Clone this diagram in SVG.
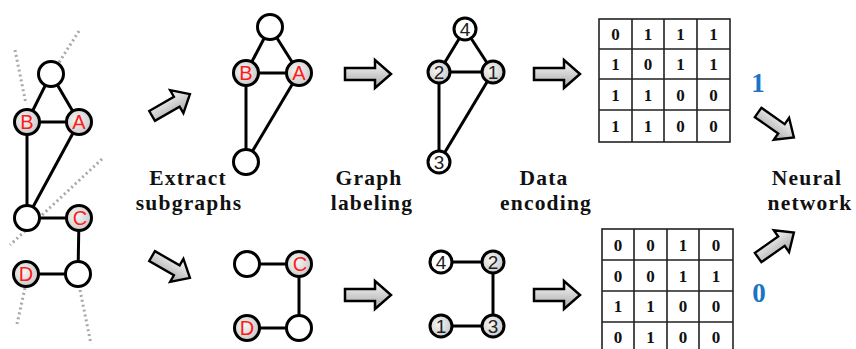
<svg xmlns="http://www.w3.org/2000/svg" width="856" height="349" viewBox="0 0 856 349">
<defs>
<radialGradient id="ng" cx="0.4" cy="0.4" r="0.7">
<stop offset="0" stop-color="#f6f6f6"/><stop offset="1" stop-color="#c4c4c4"/>
</radialGradient>
<linearGradient id="ag" x1="0" y1="0" x2="0" y2="1">
<stop offset="0" stop-color="#fafafa"/><stop offset="1" stop-color="#a8a8a8"/>
</linearGradient>
<path id="arr" d="M -23,-6 L 7,-6 L 7,-14 L 23,0 L 7,14 L 7,6 L -23,6 Z"/>
</defs>
<style>
.e{stroke:#000;stroke-width:3;fill:none}
.w{fill:#fff;stroke:#000;stroke-width:3}
.g{fill:url(#ng);stroke:#000;stroke-width:3}
.dot{stroke:#a8a8a8;stroke-width:3;stroke-dasharray:2 3;fill:none}
.a{fill:url(#ag);stroke:#000;stroke-width:2.5;stroke-linejoin:miter}
.rl{font-family:"Liberation Sans",Arial,sans-serif;font-size:20px;fill:#ff1a1a;text-anchor:middle}
.nl{font-family:"Liberation Sans",Arial,sans-serif;font-size:19px;fill:#222;text-anchor:middle}
.lab{font-family:"Liberation Serif","Times New Roman",serif;font-weight:bold;font-size:21.5px;letter-spacing:1.2px;fill:#111;text-anchor:middle}
.m{font-family:"Liberation Serif","Times New Roman",serif;font-weight:bold;font-size:17px;fill:#111;text-anchor:middle}
.grid{stroke:#222;stroke-width:1.6;fill:none}
.blue{font-family:"Liberation Serif","Times New Roman",serif;font-weight:bold;font-size:27px;fill:#1a74c6;text-anchor:middle}
</style>

<g id="cuts">
<line class="dot" x1="15" y1="50" x2="26" y2="104"/>
<line class="dot" x1="79" y1="31" x2="58" y2="64"/>
<line class="dot" x1="102" y1="159" x2="10" y2="245"/>
<line class="dot" x1="25" y1="288" x2="17" y2="324"/>
<line class="dot" x1="80" y1="290" x2="91" y2="344"/>
</g>

<g id="connectors">
<line class="e" x1="51" y1="74" x2="27" y2="122"/>
<line class="e" x1="51" y1="74" x2="79" y2="122"/>
<line class="e" x1="27" y1="122" x2="79" y2="122"/>
<line class="e" x1="27" y1="122" x2="27" y2="218"/>
<line class="e" x1="79" y1="122" x2="27" y2="218"/>
<line class="e" x1="27" y1="218" x2="79" y2="218"/>
<line class="e" x1="79" y1="218" x2="78" y2="274"/>
<line class="e" x1="26" y1="274" x2="78" y2="274"/>

<line class="e" x1="270" y1="27" x2="246" y2="73"/>
<line class="e" x1="270" y1="27" x2="299" y2="73"/>
<line class="e" x1="246" y1="73" x2="299" y2="73"/>
<line class="e" x1="246" y1="73" x2="246" y2="162"/>
<line class="e" x1="299" y1="73" x2="246" y2="162"/>

<line class="e" x1="247" y1="264" x2="299" y2="264"/>
<line class="e" x1="299" y1="264" x2="299" y2="328"/>
<line class="e" x1="247" y1="328" x2="299" y2="328"/>

<line class="e" x1="465" y1="29" x2="439" y2="72"/>
<line class="e" x1="465" y1="29" x2="493" y2="72"/>
<line class="e" x1="439" y1="72" x2="493" y2="72"/>
<line class="e" x1="439" y1="72" x2="439" y2="162"/>
<line class="e" x1="493" y1="72" x2="439" y2="162"/>

<line class="e" x1="441" y1="262" x2="493" y2="262"/>
<line class="e" x1="493" y1="262" x2="493" y2="326"/>
<line class="e" x1="441" y1="326" x2="493" y2="326"/>
</g>

<g id="arrows">
<use href="#arr" class="a" transform="translate(171,105) rotate(-30) scale(0.95)"/>
<use href="#arr" class="a" transform="translate(171,267) rotate(30) scale(0.95)"/>
<use href="#arr" class="a" transform="translate(368,74)"/>
<use href="#arr" class="a" transform="translate(368,295)"/>
<use href="#arr" class="a" transform="translate(557,74)"/>
<use href="#arr" class="a" transform="translate(557,295)"/>
<use href="#arr" class="a" transform="translate(776,125) rotate(35) scale(0.95)"/>
<use href="#arr" class="a" transform="translate(776,245) rotate(-35) scale(0.95)"/>
</g>

<g id="orig-top"><circle class="w" cx="51" cy="74" r="12.5"/></g>
<g id="orig-B"><circle class="g" cx="27" cy="122" r="12.5"/><text class="rl" x="27" y="129">B</text></g>
<g id="orig-A"><circle class="g" cx="79" cy="122" r="12.5"/><text class="rl" x="79" y="129">A</text></g>
<g id="orig-mid"><circle class="w" cx="27" cy="218" r="12.5"/></g>
<g id="orig-C"><circle class="g" cx="79" cy="218" r="12.5"/><text class="rl" x="80" y="225">C</text></g>
<g id="orig-D"><circle class="g" cx="26" cy="274" r="12.5"/><text class="rl" x="26" y="281">D</text></g>
<g id="orig-br"><circle class="w" cx="78" cy="274" r="12.5"/></g>

<g id="sub1-top"><circle class="w" cx="270" cy="27" r="12.5"/></g>
<g id="sub1-B"><circle class="g" cx="246" cy="73" r="12.5"/><text class="rl" x="246" y="80">B</text></g>
<g id="sub1-A"><circle class="g" cx="299" cy="73" r="12.5"/><text class="rl" x="299" y="80">A</text></g>
<g id="sub1-bot"><circle class="w" cx="246" cy="162" r="12.5"/></g>

<g id="sub2-left"><circle class="w" cx="247" cy="264" r="12.5"/></g>
<g id="sub2-C"><circle class="g" cx="299" cy="264" r="12.5"/><text class="rl" x="300" y="271">C</text></g>
<g id="sub2-D"><circle class="g" cx="247" cy="328" r="12.5"/><text class="rl" x="247" y="335">D</text></g>
<g id="sub2-br"><circle class="w" cx="299" cy="328" r="12.5"/></g>

<g id="lab1-4"><circle class="w" cx="465" cy="29" r="11"/><text class="nl" x="465" y="36">4</text></g>
<g id="lab1-2"><circle class="g" cx="439" cy="72" r="11"/><text class="nl" x="439" y="79">2</text></g>
<g id="lab1-1"><circle class="g" cx="493" cy="72" r="11"/><text class="nl" x="493" y="79">1</text></g>
<g id="lab1-3"><circle class="w" cx="439" cy="162" r="11"/><text class="nl" x="439" y="169">3</text></g>

<g id="lab2-4"><circle class="w" cx="441" cy="262" r="11"/><text class="nl" x="441" y="269">4</text></g>
<g id="lab2-2"><circle class="g" cx="493" cy="262" r="11"/><text class="nl" x="493" y="269">2</text></g>
<g id="lab2-1"><circle class="g" cx="441" cy="326" r="11"/><text class="nl" x="441" y="333">1</text></g>
<g id="lab2-3"><circle class="g" cx="493" cy="326" r="11"/><text class="nl" x="493" y="333">3</text></g>

<g id="matrix1">
<rect class="grid" x="599" y="19" width="131" height="123"/>
<path class="grid" d="M632,19V142M664,19V142M697,19V142M599,49H730M599,79H730M599,110H730"/>
<text class="m" x="615.5" y="40">0</text><text class="m" x="648" y="40">1</text><text class="m" x="680.5" y="40">1</text><text class="m" x="713.5" y="40">1</text>
<text class="m" x="615.5" y="70">1</text><text class="m" x="648" y="70">0</text><text class="m" x="680.5" y="70">1</text><text class="m" x="713.5" y="70">1</text>
<text class="m" x="615.5" y="101">1</text><text class="m" x="648" y="101">1</text><text class="m" x="680.5" y="101">0</text><text class="m" x="713.5" y="101">0</text>
<text class="m" x="615.5" y="132">1</text><text class="m" x="648" y="132">1</text><text class="m" x="680.5" y="132">0</text><text class="m" x="713.5" y="132">0</text>
</g>

<g id="matrix2">
<rect class="grid" x="602" y="229" width="131" height="124"/>
<path class="grid" d="M634,229V353M667,229V353M699,229V353M602,260H733M602,291H733M602,322H733"/>
<text class="m" x="618" y="251">0</text><text class="m" x="650.5" y="251">0</text><text class="m" x="683" y="251">1</text><text class="m" x="716" y="251">0</text>
<text class="m" x="618" y="282">0</text><text class="m" x="650.5" y="282">0</text><text class="m" x="683" y="282">1</text><text class="m" x="716" y="282">1</text>
<text class="m" x="618" y="312">1</text><text class="m" x="650.5" y="312">1</text><text class="m" x="683" y="312">0</text><text class="m" x="716" y="312">0</text>
<text class="m" x="618" y="343">0</text><text class="m" x="650.5" y="343">1</text><text class="m" x="683" y="343">0</text><text class="m" x="716" y="343">0</text>
</g>

<g id="labels">
<text class="lab" x="188" y="185">Extract</text>
<text class="lab" x="189" y="210">subgraphs</text>
<text class="lab" x="369" y="185">Graph</text>
<text class="lab" x="372" y="210">labeling</text>
<text class="lab" x="544" y="185">Data</text>
<text class="lab" x="546" y="210">encoding</text>
<text class="lab" x="807" y="185">Neural</text>
<text class="lab" x="810" y="210">network</text>
<text class="blue" x="758" y="92">1</text>
<text class="blue" x="759" y="302">0</text>
</g>
</svg>
